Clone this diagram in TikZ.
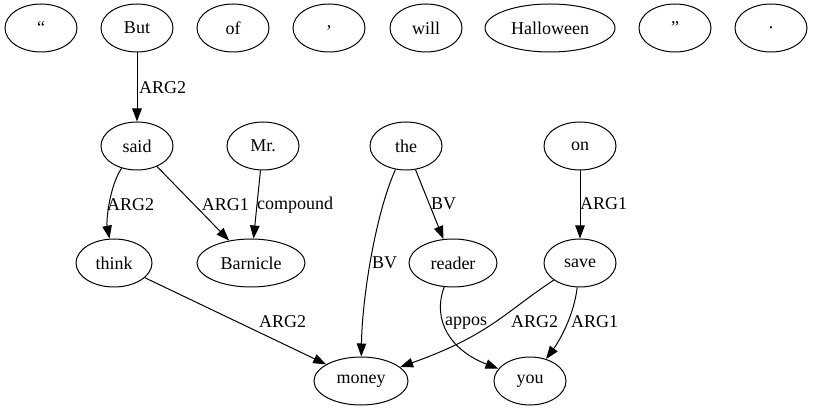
\documentclass[tikz,border=0pt]{standalone}
\usepackage{fontspec}
\setmainfont{Liberation Serif}
\usetikzlibrary{shapes.geometric,arrows.meta}
\begin{document}
\begin{tikzpicture}[x=1pt,y=-1pt,
  tok/.style={draw,ellipse,line width=1pt,inner sep=0pt,minimum width=72pt,minimum height=48pt,font=\rmfamily\fontsize{18}{20}\selectfont},
  edge/.style={draw,line width=1pt,-{Triangle[length=13pt,width=9.5pt]}},
  lab/.style={font=\rmfamily\fontsize{18}{20}\selectfont,inner sep=0pt}]
\useasboundingbox (0,0) rectangle (813,411);
% top row
\node[tok] (q1) at (41,28) {“};
\node[tok] (but) at (137,28) {But};
\node[tok] (of) at (233,28) {of};
\node[tok] (comma) at (329,28) {,};
\node[tok] (will) at (426,28) {will};
\node[tok,minimum width=130pt] (hal) at (550,28) {Halloween};
\node[tok] (q2) at (675,28) {”};
\node[tok] (dot) at (771,28) {.};
% row 2
\node[tok] (said) at (137,146) {said};
\node[tok] (mr) at (263,146) {Mr.};
\node[tok] (the) at (406,146) {the};
\node[tok] (on) at (580,146) {on};
% row 3
\node[tok,minimum width=76pt] (think) at (114,263) {think};
\node[tok,minimum width=108pt] (barn) at (251,263) {Barnicle};
\node[tok,minimum width=88pt] (reader) at (453,263) {reader};
\node[tok] (save) at (580,263) {save};
% row 4
\node[tok,minimum width=94pt] (money) at (361,381) {money};
\node[tok] (you) at (530,381) {you};
% edges
\path[edge] (but) -- (said);
\node[lab,anchor=west] (l1) at (139,88) {ARG2};
\path[edge] (said) .. controls (110,185) and (106,220) .. (think);
\node[lab,anchor=west] (l2) at (107,205) {ARG2};
\path[edge] (said) -- (barn);
\node[lab,anchor=east] (l3) at (249,205) {ARG1};
\path[edge] (mr) -- (barn);
\node[lab,anchor=west] (l4) at (257,205) {compound};
\path[edge] (the) .. controls (375,215) and (362,300) .. (money);
\node[lab,anchor=west] (l5) at (372,263) {BV};
\path[edge] (the) -- (reader);
\node[lab,anchor=west] (l6) at (431,204) {BV};
\path[edge] (on) -- (save);
\node[lab,anchor=west] (l7) at (580,204) {ARG1};
\path[edge] (save) .. controls (505,312) and (490,335) .. (money);
\node[lab,anchor=west] (l8) at (511,322) {ARG2};
\path[edge] (save) .. controls (574,315) and (560,340) .. (you);
\node[lab,anchor=west] (l9) at (571,322) {ARG1};
\path[edge] (reader) .. controls (432,320) and (450,350) .. (you);
\node[lab,anchor=west] (l10) at (445,323) {appos};
\path[edge] (think) -- (money);
\node[lab,anchor=west] (l11) at (259,322) {ARG2};
\end{tikzpicture}
\end{document}
